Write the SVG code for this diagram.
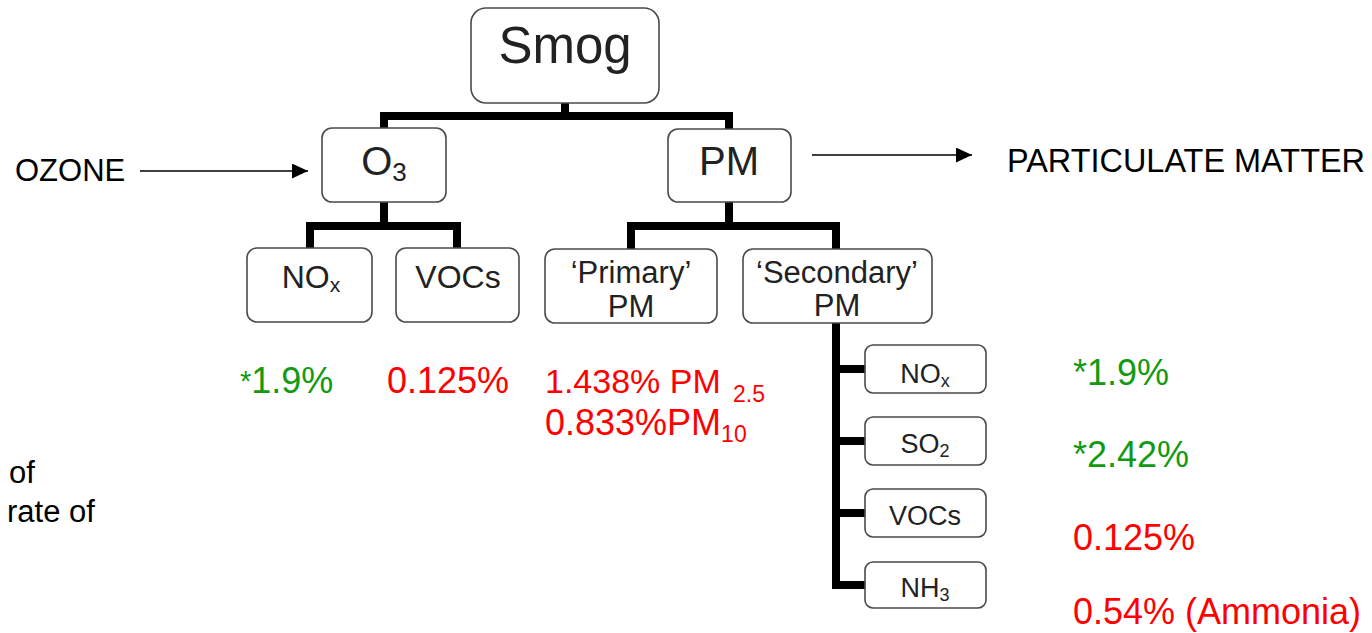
<svg xmlns="http://www.w3.org/2000/svg" width="1372" height="633" viewBox="0 0 1372 633">
<style>
.box{fill:#fff;stroke:#4a4a4a;stroke-width:1.6}
.nt{font-family:"Liberation Sans",Arial,sans-serif;fill:#222;text-anchor:middle}
.conn{fill:none;stroke:#000;stroke-width:8;stroke-linejoin:miter;stroke-linecap:butt}
.arr{fill:none;stroke:#000;stroke-width:1.6}
.lbl{font-family:"Liberation Sans",Arial,sans-serif;fill:#000}
.g{font-family:"Liberation Sans",Arial,sans-serif;fill:#139a13;font-size:36px}
.r{font-family:"Liberation Sans",Arial,sans-serif;fill:#ff0000;font-size:36px}
</style>
<defs>
<marker id="ah" markerUnits="userSpaceOnUse" markerWidth="16" markerHeight="15" refX="16" refY="7.5" orient="auto">
<path d="M0,0 L16,7.5 L0,15 z" fill="#000"/>
</marker>
</defs>

<g id="connectors">
<path class="conn" d="M565,103 V116"/>
<path class="conn" d="M384,129 V116 H729 V130"/>
<path class="conn" d="M384,202 V226"/>
<path class="conn" d="M310,249 V226 H457 V249"/>
<path class="conn" d="M729,202 V226"/>
<path class="conn" d="M631,250 V226 H836 V250"/>
<path class="conn" d="M836,323 V585 H866"/>
<path class="conn" d="M836,369 H866"/>
<path class="conn" d="M836,441 H866"/>
<path class="conn" d="M836,513 H866"/>
<line class="arr" x1="140" y1="171" x2="308" y2="171" marker-end="url(#ah)"/>
<line class="arr" x1="812" y1="155" x2="972" y2="155" marker-end="url(#ah)"/>
</g>

<g id="smog">
<rect class="box" x="471" y="8" width="188" height="95" rx="15"/>
<text class="nt" x="565" y="63" font-size="51">Smog</text>
</g>
<g id="o3">
<rect class="box" x="322" y="128" width="124" height="74" rx="10"/>
<text class="nt" x="384" y="175" font-size="40">O<tspan font-size="26" dy="6">3</tspan></text>
</g>
<g id="pm">
<rect class="box" x="668" y="129" width="123" height="73" rx="10"/>
<text class="nt" x="729" y="175" font-size="40">PM</text>
</g>
<g id="nox">
<rect class="box" x="247" y="248" width="125" height="74" rx="10"/>
<text class="nt" x="311" y="288" font-size="32">NO<tspan font-size="21" dy="4">x</tspan></text>
</g>
<g id="vocs">
<rect class="box" x="396" y="248" width="123" height="74" rx="10"/>
<text class="nt" x="458" y="288" font-size="32">VOCs</text>
</g>
<g id="primary">
<rect class="box" x="545" y="249" width="172" height="74" rx="10"/>
<text class="nt" x="631" y="283" font-size="31">‘Primary’</text>
<text class="nt" x="631" y="317" font-size="31">PM</text>
</g>
<g id="secondary">
<rect class="box" x="743" y="249" width="189" height="74" rx="10"/>
<text class="nt" x="837" y="283" font-size="31">‘Secondary’</text>
<text class="nt" x="837" y="316" font-size="31">PM</text>
</g>
<g id="nox2">
<rect class="box" x="865" y="345" width="121" height="48" rx="8"/>
<text class="nt" x="925" y="383" font-size="27">NO<tspan font-size="18" dy="4">x</tspan></text>
</g>
<g id="so2">
<rect class="box" x="865" y="417" width="121" height="48" rx="8"/>
<text class="nt" x="925" y="453" font-size="27">SO<tspan font-size="18" dy="4">2</tspan></text>
</g>
<g id="vocs2">
<rect class="box" x="865" y="489" width="121" height="48" rx="8"/>
<text class="nt" x="925" y="525" font-size="27">VOCs</text>
</g>
<g id="nh3">
<rect class="box" x="865" y="562" width="121" height="46" rx="8"/>
<text class="nt" x="925" y="597" font-size="27">NH<tspan font-size="18" dy="4">3</tspan></text>
</g>

<g id="labels">
<text class="lbl" x="15" y="181" font-size="31">OZONE</text>
<text class="lbl" x="1007" y="172" font-size="33" textLength="358" lengthAdjust="spacingAndGlyphs">PARTICULATE MATTER</text>
<text class="lbl" x="9" y="483" font-size="31">of</text>
<text class="lbl" x="7" y="522" font-size="31">rate of</text>
<text class="g" x="240" y="393"><tspan font-size="29" dy="-2">*</tspan><tspan dy="2">1.9%</tspan></text>
<text class="r" x="387" y="393">0.125%</text>
<text class="r" x="545" y="393" style="font-size:34px">1.438% PM</text>
<text class="r" x="733" y="402" style="font-size:23px">2.5</text>
<text class="r" x="545" y="435">0.833%PM<tspan font-size="23" dy="7">10</tspan></text>
<text class="g" x="1073" y="385">*1.9%</text>
<text class="g" x="1073" y="467">*2.42%</text>
<text class="r" x="1073" y="550">0.125%</text>
<text class="r" x="1073" y="624">0.54% (Ammonia)</text>
</g>
</svg>
